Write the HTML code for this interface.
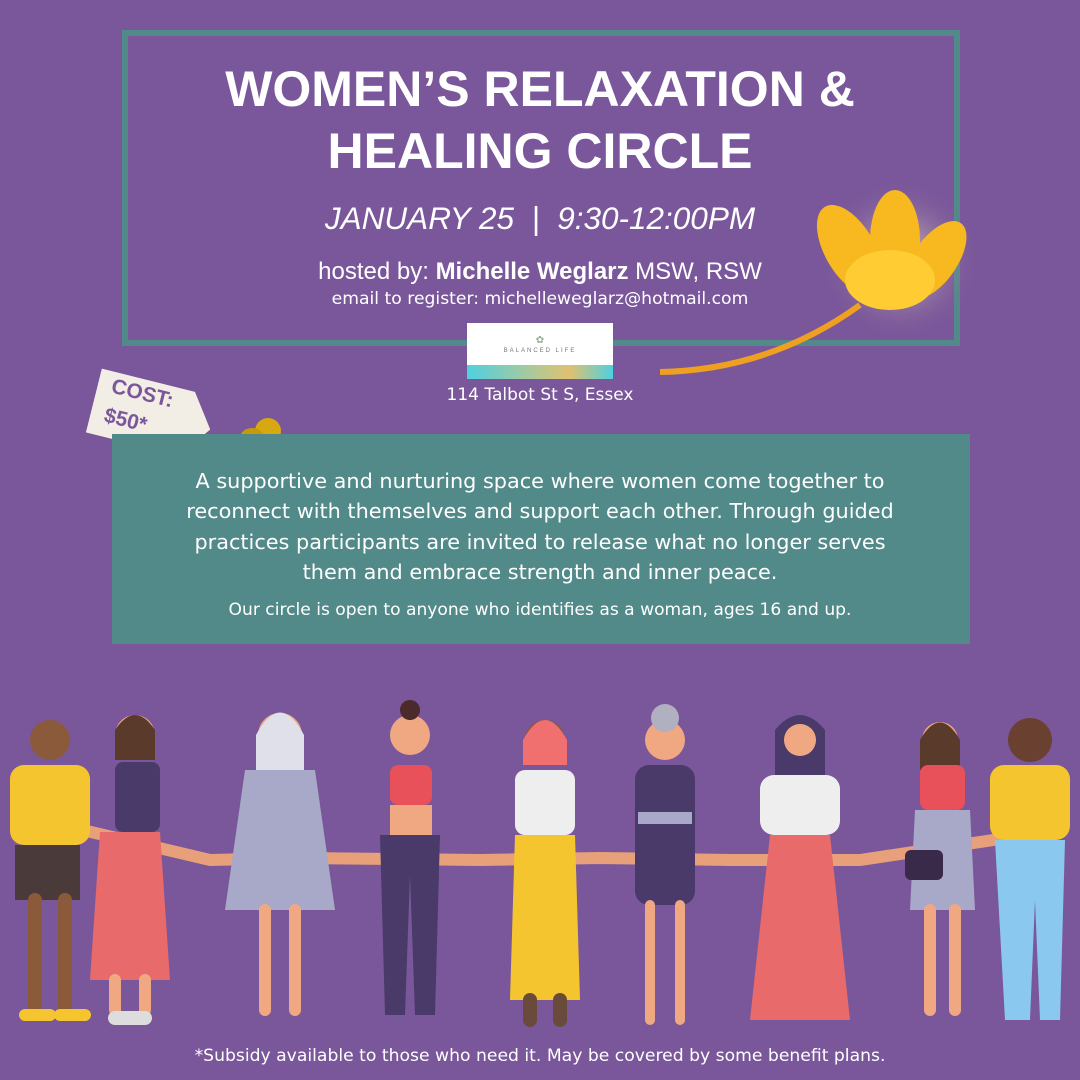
<!DOCTYPE html>
<html><head><meta charset="utf-8"><style>
body{margin:0;width:1080px;height:1080px;background:#7a579a;position:relative;overflow:hidden;font-family:"Liberation Sans",sans-serif;color:#fff}
.frame{position:absolute;left:122px;top:30px;width:826px;height:304px;border:6px solid #528a89}
.t{position:absolute;left:0;width:1080px;text-align:center}
.d{font-family:"DejaVu Sans",sans-serif}
</style></head><body>
<div class="frame"></div>
<div class="t" style="top:58px;font-size:50px;font-weight:bold;line-height:62px">WOMEN’S RELAXATION &amp;<br>HEALING CIRCLE</div>
<div class="t" style="top:200px;font-size:31.5px;font-style:italic">JANUARY 25 &nbsp;| &nbsp;9:30-12:00PM</div>
<div class="t" style="top:258px;font-size:24px">hosted by: <b>Michelle Weglarz</b> MSW, RSW</div>
<div class="t d" style="top:289px;font-size:17.2px">email to register: michelleweglarz@hotmail.com</div>
<div style="position:absolute;left:467px;top:323px;width:146px;height:56px;background:#fff">
<div style="position:absolute;top:12px;width:100%;text-align:center;color:#9a9;font-size:10px">✿</div>
<div style="position:absolute;top:25px;width:100%;text-align:center;color:#777;font-size:6px;letter-spacing:2px">BALANCED LIFE</div>
<div style="position:absolute;bottom:0;height:14px;width:100%;background:linear-gradient(90deg,#4fd0e0,#b8c890 50%,#e0c070 70%,#4fd0e0)"></div></div>
<div class="t d" style="top:385px;font-size:17px">114 Talbot St S, Essex</div>
<svg style="position:absolute;left:650px;top:180px" width="330" height="210">
<defs><radialGradient id="g"><stop offset="0" stop-color="#fff6c0" stop-opacity=".8"/><stop offset="1" stop-color="#7a579a" stop-opacity="0"/></radialGradient></defs>
<circle cx="250" cy="80" r="80" fill="url(#g)"/>
<path d="M10 192 Q120 190 210 125" stroke="#f0a020" stroke-width="6" fill="none"/>
<g fill="#f7b820"><ellipse cx="200" cy="70" rx="25" ry="50" transform="rotate(-30 200 70)"/><ellipse cx="245" cy="60" rx="25" ry="50"/><ellipse cx="285" cy="80" rx="22" ry="45" transform="rotate(35 285 80)"/><ellipse cx="240" cy="100" rx="45" ry="30" fill="#ffcc33"/></g>
</svg>
<div style="position:absolute;left:92px;top:382px;width:120px;height:66px;background:#f2eee6;transform:rotate(14deg);clip-path:polygon(0 0,80% 0,100% 50%,80% 100%,0 100%);color:#7a579a;font-weight:900;font-size:21px;padding:0 0 0 14px;box-sizing:border-box;line-height:30px">COST:<br>$50*</div>
<div style="position:absolute;left:255px;top:418px;width:26px;height:26px;border-radius:50%;background:#d8a810"></div>
<div style="position:absolute;left:240px;top:428px;width:24px;height:20px;border-radius:50%;background:#c99a08"></div>
<div style="position:absolute;left:112px;top:434px;width:858px;height:210px;background:#528a89"></div>
<div class="t d" style="top:466px;font-size:20.8px;line-height:30.3px">A supportive and nurturing space where women come together to<br>reconnect with themselves and support each other. Through guided<br>practices participants are invited to release what no longer serves<br>them and embrace strength and inner peace.</div>
<div class="t d" style="top:600px;font-size:17.1px">Our circle is open to anyone who identifies as a woman, ages 16 and up.</div>
<svg style="position:absolute;left:0;top:700px" width="1080" height="335">
<g stroke-linecap="round">
<path d="M40 120 L210 160 L300 158 L480 160 L600 158 L730 160 L860 160 L1060 130" stroke="#e8a07a" stroke-width="12" fill="none"/>
<g><circle cx="50" cy="40" r="20" fill="#8a5a3a"/><rect x="10" y="65" width="80" height="80" rx="14" fill="#f5c530"/><rect x="15" y="145" width="65" height="55" fill="#4a3a3a"/><path d="M35 200V310M65 200V310" stroke="#8a5a3a" stroke-width="14"/><path d="M25 315h25M60 315h25" stroke="#f5c530" stroke-width="12"/></g>
<g><circle cx="135" cy="35" r="20" fill="#f0a882"/><path d="M115 30 q20 -30 40 0 v30 h-40z" fill="#5a3a2a"/><rect x="115" y="62" width="45" height="70" rx="8" fill="#4a3a6a"/><path d="M100 132h60l10 148h-80z" fill="#e86a6a"/><path d="M115 280V310M145 280V310" stroke="#f0a882" stroke-width="12"/><path d="M115 318h30" stroke="#ddd" stroke-width="14"/></g>
<g><circle cx="280" cy="35" r="22" fill="#f0a882"/><path d="M256 35q24 -45 48 0v40h-48z" fill="#e0e0ea"/><path d="M245 70h70l20 140h-110z" fill="#a8a8c8"/><path d="M265 210V310M295 210V310" stroke="#f0a882" stroke-width="12"/></g>
<g><circle cx="410" cy="35" r="20" fill="#f0a882"/><circle cx="410" cy="10" r="10" fill="#4a2a2a"/><rect x="390" y="65" width="42" height="40" rx="8" fill="#e8505a"/><path d="M380 135h60l-5 180h-20l-5-140l-5 140h-20z" fill="#4a3a6a"/><rect x="390" y="105" width="42" height="30" fill="#f0a882"/></g>
<g><circle cx="545" cy="40" r="20" fill="#8a5a3a"/><path d="M523 40q22 -40 44 0v25h-44z" fill="#f07070"/><rect x="515" y="70" width="60" height="65" rx="10" fill="#eee"/><path d="M515 135h60l5 165h-70z" fill="#f5c530"/><path d="M530 300V320M560 300V320" stroke="#6a4a3a" stroke-width="14"/></g>
<g><circle cx="665" cy="40" r="20" fill="#f0a882"/><circle cx="665" cy="18" r="14" fill="#b0b0c0"/><rect x="635" y="65" width="60" height="140" rx="14" fill="#4a3a6a"/><rect x="638" y="112" width="54" height="12" fill="#a8a8c8"/><path d="M650 205V320M680 205V320" stroke="#f0a882" stroke-width="10"/></g>
<g><path d="M775 30q25 -30 50 0v90h-50z" fill="#4a3a6a"/><circle cx="800" cy="40" r="16" fill="#f0a882"/><rect x="760" y="75" width="80" height="60" rx="14" fill="#eee"/><path d="M770 135h60l20 185h-100z" fill="#e86a6a"/></g>
<g><circle cx="940" cy="40" r="18" fill="#f0a882"/><path d="M920 40q20 -35 40 0v30h-40z" fill="#5a3a2a"/><rect x="920" y="65" width="45" height="45" rx="8" fill="#e8505a"/><path d="M915 110h55l5 100h-65z" fill="#a8a8c8"/><path d="M930 210V310M955 210V310" stroke="#f0a882" stroke-width="12"/><rect x="905" y="150" width="38" height="30" rx="6" fill="#3a2a4a"/></g>
<g><circle cx="1030" cy="40" r="22" fill="#6a4030"/><rect x="990" y="65" width="80" height="75" rx="14" fill="#f5c530"/><path d="M995 140h70l-5 180h-20l-5-120l-5 120h-25z" fill="#8ac8f0"/></g>
</g></svg>
<div class="t d" style="top:1046px;font-size:17.2px">*Subsidy available to those who need it. May be covered by some benefit plans.</div>
</body></html>
